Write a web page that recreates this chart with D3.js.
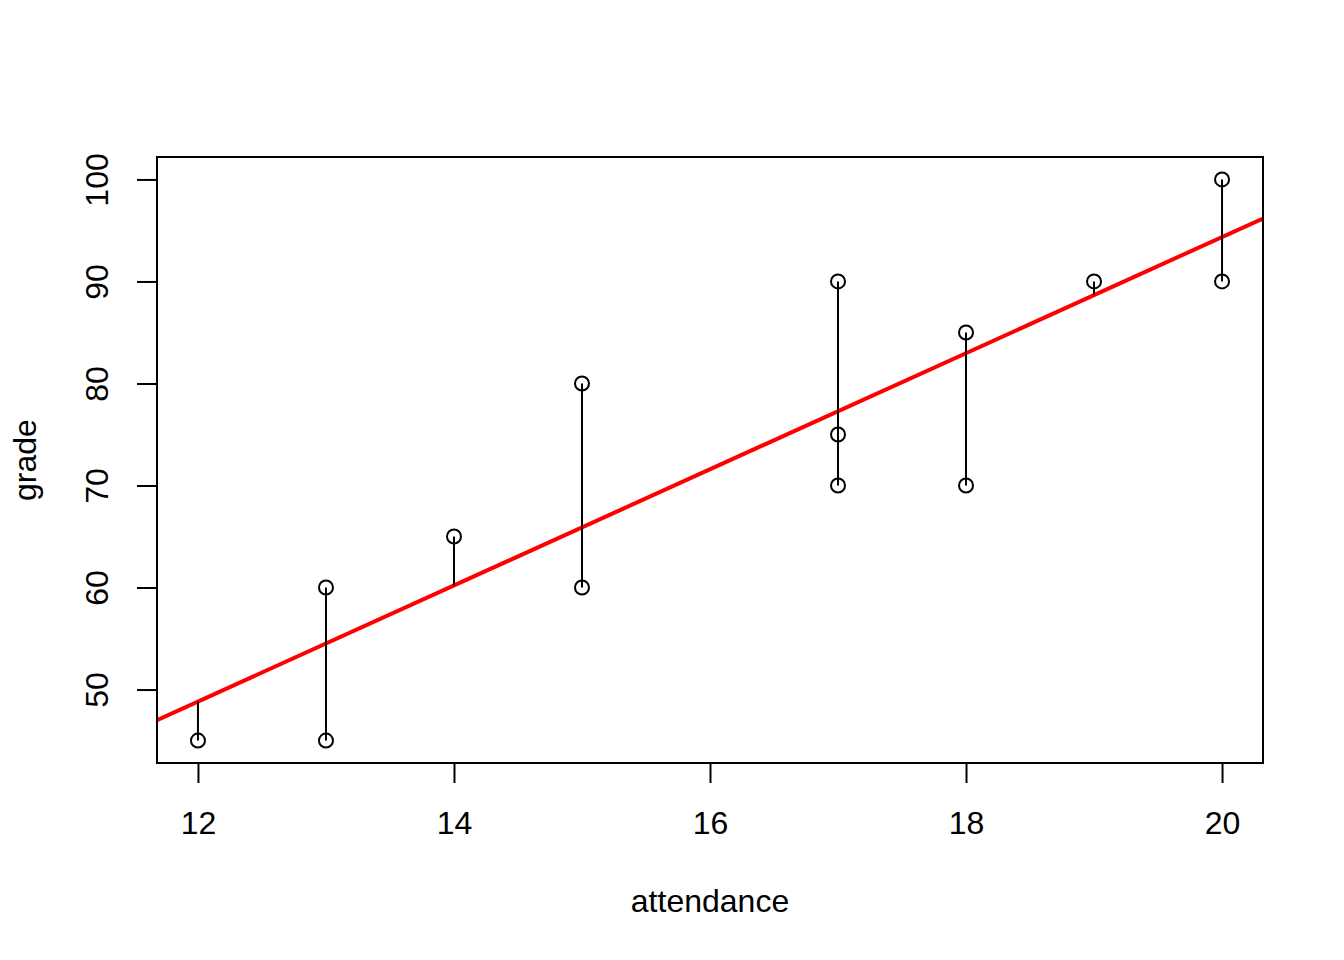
<!DOCTYPE html>
<html>
<head>
<meta charset="utf-8">
<script src="https://cdn.jsdelivr.net/npm/d3@7"></script>
<style>
  body { margin: 0; background: #fff; }
  svg text { font-family: "Liberation Sans", Arial, Helvetica, sans-serif; }
</style>
</head>
<body>
<div id="chart"></div>
<script>
// data
const attendance = [12, 13, 13, 14, 15, 15, 17, 17, 17, 18, 18, 19, 20, 20];
const grade = [45, 60, 45, 65, 80, 60, 90, 75, 70, 85, 70, 90, 100, 90];
const xTicks = [12, 14, 16, 18, 20];
const yTicks = [50, 60, 70, 80, 90, 100];

const width = 1344;
const height = 960;
const margin = { top: 157, right: 81, bottom: 197, left: 157 };

const svg = d3.select("#chart")
    .append("svg")
    .attr("width", width)
    .attr("height", height);

// R style axis range: data range plus 4% each side
const xPad = (d3.max(attendance) - d3.min(attendance)) * 0.04;
const yPad = (d3.max(grade) - d3.min(grade)) * 0.04;

const xScale = d3.scaleLinear()
    .domain([d3.min(attendance) - xPad, d3.max(attendance) + xPad])
    .range([margin.left, width - margin.right]);

const yScale = d3.scaleLinear()
    .domain([d3.min(grade) - yPad, d3.max(grade) + yPad])
    .range([height - margin.bottom, margin.top]);

// least squares fit, grade ~ attendance
const mx = d3.mean(attendance);
const my = d3.mean(grade);
const sxy = d3.sum(attendance, (x, i) => (x - mx) * (grade[i] - my));
const sxx = d3.sum(attendance, x => (x - mx) * (x - mx));
const slope = sxy / sxx;
const intercept = my - slope * mx;
const fitted = x => intercept + slope * x;

const points = attendance.map((x, i) => ({ x: x, y: grade[i] }));

// clip for abline
svg.append("clipPath")
    .attr("id", "plotClip")
    .append("rect")
    .attr("x", margin.left)
    .attr("y", margin.top)
    .attr("width", width - margin.left - margin.right)
    .attr("height", height - margin.top - margin.bottom);

// points
svg.append("g")
    .selectAll("circle")
    .data(points)
    .enter()
    .append("circle")
    .attr("cx", d => xScale(d.x))
    .attr("cy", d => yScale(d.y))
    .attr("r", 7)
    .attr("fill", "none")
    .attr("stroke", "black")
    .attr("stroke-width", 2);

// regression line
const xd = xScale.domain();
svg.append("line")
    .attr("clip-path", "url(#plotClip)")
    .attr("x1", xScale(xd[0]))
    .attr("x2", xScale(xd[1]))
    .attr("y1", yScale(fitted(xd[0])))
    .attr("y2", yScale(fitted(xd[1])))
    .attr("stroke", "#ff0000")
    .attr("stroke-width", 4);

// residual segments
svg.append("g")
    .selectAll("line")
    .data(points)
    .enter()
    .append("line")
    .attr("x1", d => xScale(d.x))
    .attr("x2", d => xScale(d.x))
    .attr("y1", d => yScale(fitted(d.x)))
    .attr("y2", d => yScale(d.y))
    .attr("stroke", "black")
    .attr("stroke-width", 2);

// box
svg.append("rect")
    .attr("x", margin.left)
    .attr("y", margin.top)
    .attr("width", width - margin.left - margin.right)
    .attr("height", height - margin.top - margin.bottom)
    .attr("fill", "none")
    .attr("stroke", "black")
    .attr("stroke-width", 2);

// x axis
const xAxis = svg.append("g")
    .attr("transform", `translate(0,${height - margin.bottom})`)
    .call(d3.axisBottom(xScale).tickValues(xTicks).tickSize(20).tickPadding(28).tickSizeOuter(0));
xAxis.select(".domain")
    .attr("d", `M${xScale(xTicks[0])},0H${xScale(xTicks[xTicks.length - 1])}`)
    .attr("stroke-width", 2);
xAxis.selectAll(".tick line").attr("stroke-width", 2);
xAxis.selectAll(".tick text")
    .attr("font-size", 32)
    .attr("font-family", "Liberation Sans, Arial, sans-serif")
    .attr("fill", "black");

// y axis
const yAxis = svg.append("g")
    .attr("transform", `translate(${margin.left},0)`)
    .call(d3.axisLeft(yScale).tickValues(yTicks).tickSize(20).tickSizeOuter(0));
yAxis.select(".domain")
    .attr("d", `M0,${yScale(yTicks[0])}V${yScale(yTicks[yTicks.length - 1])}`)
    .attr("stroke-width", 2);
yAxis.selectAll(".tick line").attr("stroke-width", 2);
yAxis.selectAll(".tick text")
    .attr("x", null)
    .attr("dy", null)
    .attr("transform", "translate(-49,0) rotate(-90)")
    .attr("text-anchor", "middle")
    .attr("font-size", 32)
    .attr("font-family", "Liberation Sans, Arial, sans-serif")
    .attr("fill", "black");

// x axis label
svg.append("text")
    .attr("x", (margin.left + width - margin.right) / 2)
    .attr("y", 912)
    .attr("text-anchor", "middle")
    .attr("font-size", 32)
    .text("attendance");

// y axis label
svg.append("text")
    .attr("transform", `translate(36,${(margin.top + height - margin.bottom) / 2}) rotate(-90)`)
    .attr("text-anchor", "middle")
    .attr("font-size", 32)
    .text("grade");
</script>
</body>
</html>
